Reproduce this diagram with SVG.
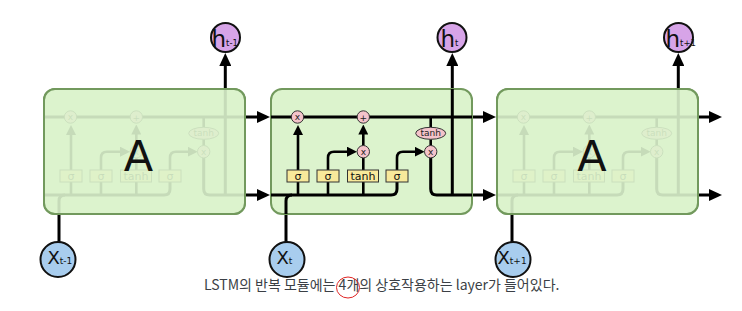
<svg xmlns="http://www.w3.org/2000/svg" xmlns:xlink="http://www.w3.org/1999/xlink" width="742" height="311" viewBox="0 0 742 311">
  <style>
    .w { fill: none; stroke: #000; stroke-width: 3; }
    .wi { fill: none; stroke: #000; stroke-width: 2.6; }
    .cell { fill: #dcf3cd; stroke: #72995d; stroke-width: 2; }
    .veil { fill: #dcf3cd; fill-opacity: 0.9; stroke: #72995d; stroke-width: 2; }
    .op { fill: #f4c3ca; stroke: #333; stroke-width: 1; }
    .gate { fill: #f8e99b; stroke: #333; stroke-width: 1; }
    .gt { font-family: "DejaVu Sans", sans-serif; font-size: 11px; fill: #111; text-anchor: middle; }
    .ot { font-family: "DejaVu Sans", sans-serif; font-size: 9px; fill: #222; text-anchor: middle; }
    .big { font-family: "DejaVu Sans", sans-serif; font-size: 43px; fill: #111; text-anchor: middle; }
    .hn { fill: #d7a4e8; stroke: #111; stroke-width: 2; }
    .xn { fill: #a8cdee; stroke: #111; stroke-width: 2; }
    .lbl { font-family: "DejaVu Sans", sans-serif; fill: #111; }
    .cap { font-family: "Noto Sans CJK KR", "Noto Sans", sans-serif; font-size: 14px; fill: #3b3f45; }
  </style>
  <defs>
    <marker id="ah" markerUnits="userSpaceOnUse" viewBox="0 0 10 10" markerWidth="10" markerHeight="10" refX="1" refY="5" orient="auto">
      <path d="M0,0 L10,5 L0,10 z" fill="#000"/>
    </marker>
    <marker id="ahb" markerUnits="userSpaceOnUse" viewBox="0 0 13 12" markerWidth="13" markerHeight="12" refX="1" refY="6" orient="auto">
      <path d="M0,0 L13,6 L0,12 z" fill="#000"/>
    </marker>
    <!-- internal wiring of one repeating module, drawn at the middle module's position -->
    <g id="wiring">
      <path class="w" d="M271,117 H472"/>
      <path class="w" d="M271,195 H391 Q397,195 397,189 V182"/>
      <path class="w" d="M286,214 V201 Q286,195 292,195"/>
      <path class="wi" d="M298,195 V182"/>
      <path class="wi" d="M298,170 V134" marker-end="url(#ah)"/>
      <path class="wi" d="M328,195 V182"/>
      <path class="wi" d="M328,170 V157.7 Q328,151.7 334,151.7 H348" marker-end="url(#ah)"/>
      <path class="wi" d="M363.3,195 V182"/>
      <path class="wi" d="M363.3,170 V157.7"/>
      <path class="wi" d="M363.3,145.7 V133.5" marker-end="url(#ah)"/>
      <path class="wi" d="M397,170 V157.7 Q397,151.7 403,151.7 H415.7" marker-end="url(#ah)"/>
      <path class="wi" d="M430.7,117 V127.3"/>
      <path class="wi" d="M430.7,139.3 V145.7"/>
      <path class="w" d="M430.7,157.7 V189 Q430.7,195 436.7,195 H472"/>
      <path class="w" d="M452.3,195 V89"/>
      <circle class="op" cx="297.5" cy="117" r="6.2"/>
      <text class="ot" x="297.5" y="120.3">x</text>
      <circle class="op" cx="363.3" cy="117" r="6.2"/>
      <text class="ot" x="363.3" y="120.6">+</text>
      <circle class="op" cx="363.3" cy="151.7" r="6.2"/>
      <text class="ot" x="363.3" y="155">x</text>
      <circle class="op" cx="430.7" cy="151.7" r="6.2"/>
      <text class="ot" x="430.7" y="155">x</text>
      <ellipse class="op" cx="430.7" cy="133.3" rx="15" ry="6"/>
      <text class="ot" x="430.7" y="136.4" font-size="8.5">tanh</text>
      <rect class="gate" x="287" y="170" width="22" height="12"/>
      <text class="gt" x="298" y="180">σ</text>
      <rect class="gate" x="317" y="170" width="22" height="12"/>
      <text class="gt" x="328" y="180">σ</text>
      <rect class="gate" x="347.5" y="170" width="31" height="12"/>
      <text class="gt" x="363" y="179.5" font-size="9.5">tanh</text>
      <rect class="gate" x="386" y="170" width="22" height="12"/>
      <text class="gt" x="397" y="180">σ</text>
    </g>
  </defs>

  <!-- connectors between modules, inputs and outputs -->
  <g id="connectors">
    <path class="w" d="M245,117 H258" marker-end="url(#ahb)"/>
    <path class="w" d="M245,195 H258" marker-end="url(#ahb)"/>
    <path class="w" d="M472,117 H484" marker-end="url(#ahb)"/>
    <path class="w" d="M472,195 H484" marker-end="url(#ahb)"/>
    <path class="w" d="M698,117 H710" marker-end="url(#ahb)"/>
    <path class="w" d="M698,195 H710" marker-end="url(#ahb)"/>
    <path class="w" d="M225.3,90 V65" marker-end="url(#ahb)"/>
    <path class="w" d="M452.3,90 V65" marker-end="url(#ahb)"/>
    <path class="w" d="M678.3,90 V65" marker-end="url(#ahb)"/>
    <path class="w" d="M59,242 V213"/>
    <path class="w" d="M286,242 V213"/>
    <path class="w" d="M512,242 V213"/>
  </g>

  <!-- previous module (faded interior) -->
  <g id="cell-prev">
    <rect class="cell" x="44" y="89" width="201" height="125" rx="11"/>
    <use xlink:href="#wiring" href="#wiring" transform="translate(-227,0)"/>
    <rect class="veil" x="44" y="89" width="201" height="125" rx="11"/>
    <text class="big" x="138.5" y="170.5">A</text>
  </g>

  <!-- current module -->
  <g id="cell-current">
    <rect class="cell" x="271" y="89" width="201" height="125" rx="11"/>
    <use xlink:href="#wiring" href="#wiring"/>
  </g>

  <!-- next module (faded interior) -->
  <g id="cell-next">
    <rect class="cell" x="497" y="89" width="201" height="125" rx="11"/>
    <use xlink:href="#wiring" href="#wiring" transform="translate(226,0)"/>
    <rect class="veil" x="497" y="89" width="201" height="125" rx="11"/>
    <text class="big" x="592" y="170.5">A</text>
  </g>

  <!-- hidden state outputs -->
  <g id="h-prev">
    <circle class="hn" cx="225.5" cy="37.5" r="14.5"/>
    <text class="lbl" x="211.5" y="46.5" font-size="23">h<tspan font-size="8.5" dy="-1">t-1</tspan></text>
  </g>
  <g id="h-current">
    <circle class="hn" cx="452" cy="37.5" r="14.5"/>
    <text class="lbl" x="440.5" y="46.5" font-size="23">h<tspan font-size="8.5" dy="-1">t</tspan></text>
  </g>
  <g id="h-next">
    <circle class="hn" cx="678.5" cy="37.5" r="14.5"/>
    <text class="lbl" x="665.5" y="46.5" font-size="23">h<tspan font-size="8.5" dy="-1">t+1</tspan></text>
  </g>

  <!-- inputs -->
  <g id="x-prev">
    <circle class="xn" cx="58" cy="259.5" r="17.5"/>
    <text class="lbl" x="47.5" y="264" font-size="18">X<tspan font-size="9" dy="0">t-1</tspan></text>
  </g>
  <g id="x-current">
    <circle class="xn" cx="287" cy="259.5" r="17.5"/>
    <text class="lbl" x="276.5" y="264" font-size="18">X<tspan font-size="9" dy="0">t</tspan></text>
  </g>
  <g id="x-next">
    <circle class="xn" cx="513" cy="259.5" r="17.5"/>
    <text class="lbl" x="497.5" y="264" font-size="18">X<tspan font-size="9" dy="0">t+1</tspan></text>
  </g>

  <!-- caption -->
  <g id="caption">
    <text class="cap" x="204" y="290">LSTM의 반복 모듈에는 4개의 상호작용하는 layer가 들어있다.</text>
    <ellipse cx="348" cy="287.5" rx="11.5" ry="10.5" fill="none" stroke="#e02424" stroke-width="1"/>
  </g>
</svg>
